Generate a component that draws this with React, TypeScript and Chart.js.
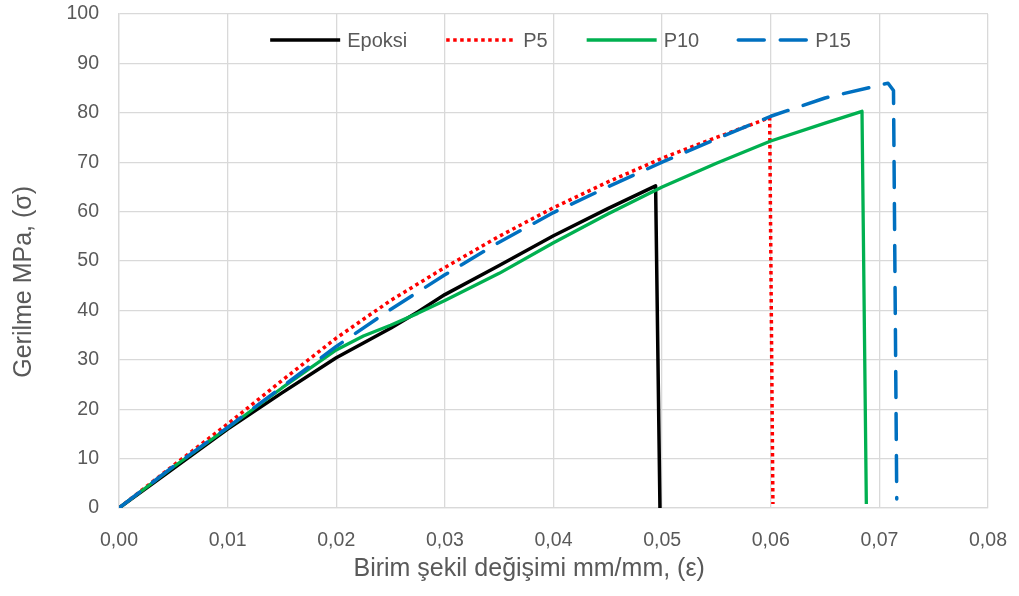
import { useEffect, useRef } from 'react';
import { Chart, registerables } from 'chart.js';

Chart.register(...registerables);

// Strain (mm/mm) and stress (MPa) readings for each specimen
const epoxyX = [0, 0.005, 0.01, 0.015, 0.02, 0.0225, 0.025, 0.0275, 0.03, 0.035, 0.04, 0.045, 0.0494, 0.0498];
const epoxyY = [0, 8, 16, 23.3, 30.4, 33.4, 36.4, 39.7, 43.2, 49.1, 55.1, 60.6, 65.2, 0];

const p5X = [0, 0.005, 0.01, 0.015, 0.02, 0.025, 0.03, 0.035, 0.04, 0.045, 0.05, 0.055, 0.0599, 0.0602];
const p5Y = [0, 8.6, 17, 25.8, 34.4, 42, 48.7, 55, 60.8, 66, 70.8, 75, 79, 0.8];

const p10X = [0, 0.005, 0.01, 0.015, 0.02, 0.0225, 0.025, 0.0275, 0.03, 0.035, 0.04, 0.045, 0.05, 0.055, 0.06, 0.065, 0.0684, 0.0688];
const p10Y = [0, 8.3, 16.2, 24.3, 32, 34.8, 37, 39.4, 42, 47.5, 53.7, 59.5, 65, 69.8, 74.3, 77.9, 80.3, 0.8];

const p15X = [0, 0.005, 0.01, 0.015, 0.02, 0.025, 0.03, 0.035, 0.04, 0.045, 0.05, 0.055, 0.06, 0.065, 0.0708, 0.0713, 0.0716];
const p15Y = [0, 8.4, 16.3, 24.5, 32.7, 40.2, 47.2, 53.8, 59.8, 65, 70, 74.7, 79.3, 83, 86, 84.5, 1.8];

const seriesLabels = ['Epoksi', 'P5', 'P10', 'P15'];

const NB = '\u00a0';
const xTitle = 'Birim şekil değişimi mm/mm, (ε)' + NB.repeat(7);
const yTitle = 'Gerilme MPa, (σ)' + NB.repeat(6);

const FONT = '"Liberation Sans", Arial, Helvetica, sans-serif';
const TEXT = '#595959';
const GRID = '#d9d9d9';

const pts = (xs: number[], ys: number[]) => xs.map((x, i) => ({ x, y: ys[i] }));

const styles = [
  { color: '#000000', dash: [] as number[], width: 3.5, cap: 'butt', order: 4 },
  { color: '#ff0000', dash: [3.5, 3.5], width: 3.5, cap: 'butt', order: 3 },
  { color: '#00b050', dash: [] as number[], width: 3.3, cap: 'butt', order: 2 },
  { color: '#0070c0', dash: [26, 16], width: 3.5, cap: 'round', order: 1 },
];

const legendPlugin = {
  id: 'topLegend',
  afterDraw(chart: any) {
    const { ctx, chartArea } = chart;
    ctx.save();
    ctx.font = `20px ${FONT}`;
    const lineLen = 70;
    const gap = 7;
    const spacing = 39;
    const items = chart.data.datasets.map((ds: any, i: number) => ({
      label: ds.label as string,
      st: styles[i],
    }));
    const widths = items.map((it: any) => lineLen + gap + ctx.measureText(it.label).width);
    const total = widths.reduce((a: number, b: number) => a + b, 0) + spacing * (items.length - 1);
    let x = (chartArea.left + chartArea.right) / 2 + 7 - total / 2;
    const y = chartArea.top + 26;
    items.forEach((it: any, i: number) => {
      ctx.beginPath();
      ctx.setLineDash(it.st.dash);
      ctx.lineCap = it.st.cap;
      ctx.lineWidth = it.st.width;
      ctx.strokeStyle = it.st.color;
      ctx.moveTo(x, y);
      ctx.lineTo(x + lineLen, y);
      ctx.stroke();
      ctx.setLineDash([]);
      ctx.fillStyle = TEXT;
      ctx.textBaseline = 'middle';
      ctx.textAlign = 'left';
      ctx.fillText(it.label, x + lineLen + gap, y + 1);
      x += widths[i] + spacing;
    });
    ctx.restore();
  },
};

export default function App() {
  const ref = useRef<HTMLCanvasElement | null>(null);

  useEffect(() => {
    if (!ref.current) return;
    const allX = [epoxyX, p5X, p10X, p15X];
    const allY = [epoxyY, p5Y, p10Y, p15Y];
    const chart = new Chart(ref.current, {
      type: 'line',
      data: {
        datasets: seriesLabels.map((label, i) => ({
          label,
          data: pts(allX[i], allY[i]),
          borderColor: styles[i].color,
          backgroundColor: styles[i].color,
          borderWidth: styles[i].width,
          borderDash: styles[i].dash,
          borderCapStyle: styles[i].cap as any,
          borderJoinStyle: 'round' as any,
          pointRadius: 0,
          tension: 0,
          fill: false,
          order: styles[i].order,
        })),
      },
      options: {
        animation: false,
        responsive: false,
        maintainAspectRatio: false,
        layout: { padding: { top: 14, right: 31, left: 0, bottom: 0 } },
        plugins: { legend: { display: false }, tooltip: { enabled: false } },
        scales: {
          x: {
            type: 'linear',
            min: 0,
            max: 0.08,
            ticks: {
              stepSize: 0.01,
              autoSkip: false,
              maxRotation: 0,
              padding: 0,
              color: TEXT,
              font: { family: FONT, size: 19.5 },
              callback: (v: any) => Number(v).toFixed(2).replace('.', ','),
            },
            grid: { color: GRID, lineWidth: 1.3, drawTicks: true, tickLength: 21, tickColor: 'rgba(0,0,0,0)' },
            border: { color: GRID, width: 1.3 },
            title: {
              display: true,
              text: xTitle,
              color: TEXT,
              font: { family: FONT, size: 25 },
              padding: { top: 0, bottom: 12 },
            },
            afterFit: (s: any) => {
              s.height = 88;
            },
          },
          y: {
            type: 'linear',
            min: 0,
            max: 100,
            ticks: {
              stepSize: 10,
              padding: 0,
              color: TEXT,
              font: { family: FONT, size: 19.5 },
              callback: (v: any) => String(v),
            },
            grid: { color: GRID, lineWidth: 1.3, drawTicks: true, tickLength: 20, tickColor: 'rgba(0,0,0,0)' },
            border: { color: GRID, width: 1.3 },
            title: {
              display: true,
              text: yTitle,
              color: TEXT,
              font: { family: FONT, size: 25 },
              padding: { top: 9, bottom: 0 },
            },
            afterFit: (s: any) => {
              s.width = 119;
            },
          },
        },
      },
      plugins: [legendPlugin],
    });
    return () => chart.destroy();
  }, []);

  return (
    <div style={{ position: 'absolute', left: 0, top: 0, width: 1019, height: 596, background: '#fff' }}>
      <canvas ref={ref} width={1019} height={596} style={{ display: 'block' }} />
    </div>
  );
}
